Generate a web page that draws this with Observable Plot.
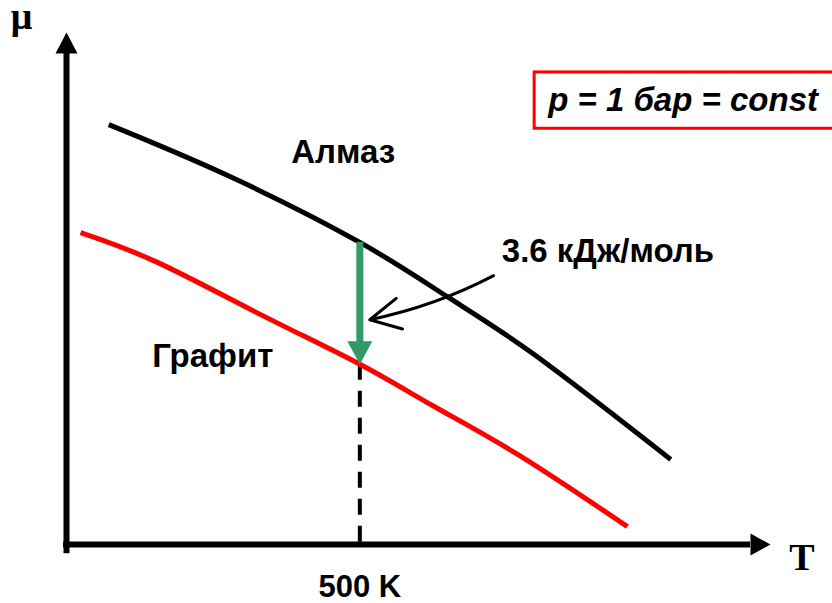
<!DOCTYPE html>
<html><head><meta charset="utf-8">
<script src="https://cdn.jsdelivr.net/npm/d3@7"></script>
<script src="https://cdn.jsdelivr.net/npm/@observablehq/plot@0.6"></script>
<style>body{margin:0;background:#fff}</style>
</head><body><div id="chart"></div>
<script>
// Chemical potential μ vs temperature T at p = 1 bar
const diamondT  = [72, 274, 500, 649, 796, 1030];
const diamondMu = [82.0, 72.1, 59.0, 48.4, 37.2, 16.6];
const graphiteT  = [24, 155, 331, 500, 626, 769, 956];
const graphiteMu = [60.9, 55.1, 44.9, 35.2, 27.0, 17.6, 3.5];
const markT = [500];
const tickLabels = ["500 K"];
const seriesLabels = ["Алмаз", "Графит"];
const deltaLabel = ["3.6 кДж/моль"];
const conditionLabel = ["p = 1 бар = const"];
const axisLabels = ["μ", "T"];

// annotation anchors (data units)
const labelT  = [383, 146];
const labelMu = [74.6, 34.6];
const deltaPos = {T: 742, mu: 55.1};
const pointer = {T1: 728, mu1: 52.5, T2: 517, mu2: 43.9};
const box = {T1: 798, T2: 1310, mu1: 81.2, mu2: 92.2, textT: 821, textMu: 84.6};

const diamond = diamondT.map((t, i) => ({T: t, mu: diamondMu[i]}));
const graphite = graphiteT.map((t, i) => ({T: t, mu: graphiteMu[i]}));
const dAt = diamondMu[diamondT.indexOf(markT[0])];
const gAt = graphiteMu[graphiteT.indexOf(markT[0])];

// filled triangle symbol with tip at origin, pointing along (dx,dy)
const tri = (dx, dy, len, half) => ({draw(ctx) {
  const bx = -dx * len, by = -dy * len, px = -dy * half, py = dx * half;
  ctx.moveTo(0, 0); ctx.lineTo(bx + px, by + py); ctx.lineTo(bx - px, by - py); ctx.closePath();
}});

const SANS = "'Liberation Sans', Arial, sans-serif";
const SERIF = "'Liberation Serif', 'Times New Roman', serif";
const green = "#339966";

const chart = Plot.plot({
  width: 832, height: 603, margin: 0,
  x: {domain: [0, 1200], range: [66, 770], axis: null},
  y: {domain: [0, 100], range: [544, 32], axis: null},
  style: {background: "white", overflow: "visible"},
  marks: [
    // condition box
    Plot.rect([0], {x1: box.T1, x2: box.T2, y1: box.mu1, y2: box.mu2, fill: "white", stroke: "#ff0000", strokeWidth: 3}),
    Plot.text(conditionLabel, {x: box.textT, y: box.textMu, text: d => d, textAnchor: "start", lineAnchor: "bottom",
      fontFamily: SANS, fontSize: 33, fontWeight: "bold", fontStyle: "italic", fill: "black"}),
    // dashed drop line at 500 K
    Plot.ruleX(markT, {y1: gAt, y2: 0, stroke: "black", strokeWidth: 4, strokeDasharray: "16,11"}),
    // axes
    Plot.ruleX([0], {y1: -1.8, y2: 96, stroke: "black", strokeWidth: 6}),
    Plot.ruleY([0], {x1: -5, x2: 1166, stroke: "black", strokeWidth: 6}),
    Plot.dot([0], {x: 0, y: 100, symbol: tri(0, -1, 21, 11), fill: "black", stroke: "none"}),
    Plot.dot([0], {x: 1200, y: 0, symbol: tri(1, 0, 20, 11), fill: "black", stroke: "none"}),
    // curves
    Plot.line(graphite, {x: "T", y: "mu", stroke: "#ff0000", strokeWidth: 5, curve: "natural", strokeLinecap: "butt"}),
    Plot.line(diamond, {x: "T", y: "mu", stroke: "black", strokeWidth: 5, curve: "natural", strokeLinecap: "butt"}),
    // green difference arrow
    Plot.ruleX(markT, {y1: dAt, y2: gAt + 4, stroke: green, strokeWidth: 7}),
    Plot.dot(markT, {x: d => d, y: gAt, symbol: tri(0, 1, 23, 12.5), fill: green, stroke: "none"}),
    // pointer arrow
    Plot.arrow([0], {x1: pointer.T1, y1: pointer.mu1, x2: pointer.T2, y2: pointer.mu2, bend: 8,
      stroke: "black", strokeWidth: 3, headLength: 17, headAngle: 55}),
    // labels
    Plot.text(seriesLabels, {x: (d, i) => labelT[i], y: (d, i) => labelMu[i], text: d => d, textAnchor: "start", lineAnchor: "bottom",
      fontFamily: SANS, fontSize: 33, fontWeight: "bold", fill: "black"}),
    Plot.text(deltaLabel, {x: deltaPos.T, y: deltaPos.mu, text: d => d, textAnchor: "start", lineAnchor: "bottom",
      fontFamily: SANS, fontSize: 33, fontWeight: "bold", fill: "black"}),
    Plot.text(tickLabels, {x: (d, i) => markT[i], y: -10.2, text: d => d, textAnchor: "middle", lineAnchor: "bottom",
      fontFamily: SANS, fontSize: 31, fontWeight: "bold", fill: "black"}),
    Plot.text([axisLabels[0]], {x: -95, y: 100.6, text: d => d, textAnchor: "start", lineAnchor: "bottom",
      fontFamily: SERIF, fontSize: 38, fontWeight: "bold", fill: "black"}),
    Plot.text([axisLabels[1]], {x: 1232, y: -4.9, text: d => d, textAnchor: "start", lineAnchor: "bottom",
      fontFamily: SERIF, fontSize: 38, fontWeight: "bold", fill: "black"})
  ]
});
document.getElementById("chart").appendChild(chart);
</script>
</body></html>
